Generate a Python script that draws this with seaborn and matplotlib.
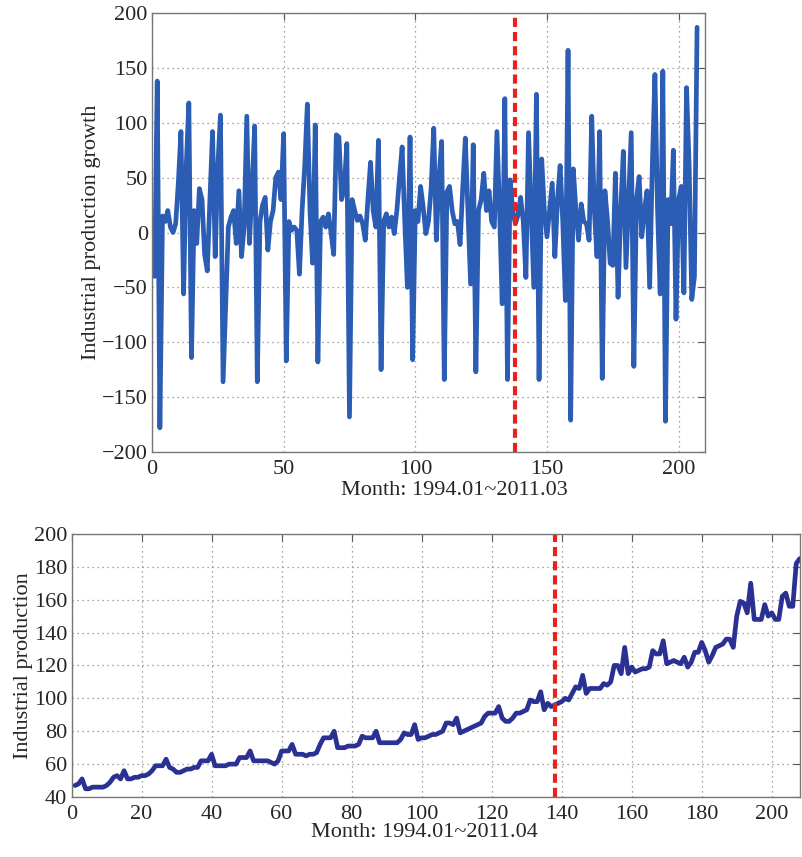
import numpy as np
import pandas as pd
import seaborn as sns
import matplotlib
matplotlib.use("Agg")
import matplotlib.pyplot as plt

# monthly growth of industrial production (x = 1..207)
growth = [
    -40, 138, -178, 15, 10, 20, 5, 0, 8, 45, 92, -56, 60, 118, -114,
    20, -10, 40, 30, -20, -35, 30, 92, -22, 60, 107, -136,
    -65, 5, 14, 20, -10, 38, -22, 5, 106, -10, 40, 97, -136,
    10, 25, 32, -16, 10, 20, 50, 55, 30, 90, -117,
    10, 2, 5, 2, -38, 20, 60, 117, 20, -28, 98, -118,
    10, 14, 5, 17, 0, -20, 89, 87, 30, 40, 81, -168,
    30, 20, 11, 15, 8, -7, 30, 64, 20, 5, 84, -125,
    10, 17, 5, 14, -1, 20, 50, 78, 10, -50, 87, -116,
    20, 10, 42, 23, -1, 10, 40, 95, -7, 50, 83, -134,
    37, 42, 20, 8, 10, -11, 40, 86, 20, -47, 80, -127,
    20, 30, 54, 20, 38, 10, 5, 92, 20, -65, 122, -134,
    48, 20, 8, 16, 32, 10, -41, 91, 20, -50, 126, -134,
    67, 20, -4, 20, 45, -22, 30, 61, 10, -62, 166, -171,
    58, 20, -7, 26, 10, 8, -7, 106, 20, -22, 92, -133,
    38, 11, -28, -30, 54, -59, 20, 74, -32, 30, 91, -122,
    30, 51, -4, 20, 38, -50, 60, 144, 20, -56, 147, -172,
    30, 8, 75, -79, 30, 42, -55, 132, 60, -61, -40, 187,
]

# industrial production level (lower panel, x = 1..208)
level = [
    47, 48, 51, 45, 45, 46, 46, 46, 46, 47, 49, 52, 53, 51, 56,
    51, 51, 52, 52, 53, 53, 54, 56, 59, 59, 59, 63,
    58, 57, 55, 55, 56, 57, 57, 58, 58, 62, 62, 62, 66,
    59, 59, 59, 59, 60, 60, 60, 64, 64, 64, 68,
    62, 62, 62, 62, 62, 61, 60, 62, 68, 68, 68, 72,
    66, 66, 66, 65, 66, 66, 67, 72, 76, 76, 76, 80,
    70, 70, 70, 71, 71, 71, 72, 77, 76, 76, 76, 80,
    73, 73, 73, 73, 73, 73, 75, 79, 78, 78, 84,
    75, 76, 76, 77, 78, 78, 79, 80, 85, 85, 84, 88,
    79, 80, 81, 82, 83, 84, 85, 89, 91, 91, 91, 95,
    88, 86, 86, 88, 91, 91, 92, 93, 99, 98, 98, 104,
    93, 97, 95, 96, 97, 98, 100, 99, 103, 107, 106, 114,
    103, 106, 106, 106, 106, 109, 108, 110, 120, 120, 115, 131,
    115, 119, 116, 117, 118, 118, 119, 129, 127, 127, 135,
    121, 122, 123, 122, 121, 125, 119, 122, 128, 128, 134,
    129, 122, 126, 131, 132, 133, 136, 136, 131, 150, 159, 158, 152, 170,
    148, 148, 148, 157, 150, 152, 148, 148, 162, 164, 156, 156, 182, 185,
]

split_month = 138

df_g = pd.DataFrame({"month": np.arange(1, len(growth) + 1), "value": growth})
df_l = pd.DataFrame({"month": np.arange(1, len(level) + 1), "value": level})

sns.set_style("white")
plt.rcParams["font.family"] = ["Liberation Serif", "DejaVu Serif"]
plt.rcParams["font.size"] = 16

fig = plt.figure(figsize=(8.02, 8.57), dpi=100)
ax1 = fig.add_axes([0.1895, 0.4726, 0.6895, 0.5122])
ax2 = fig.add_axes([0.0892, 0.0700, 0.9080, 0.3070])


def matlab_axes(ax):
    ax.grid(True, linestyle=(0, (1, 3)), color="#888888", linewidth=0.9)
    for s in ax.spines.values():
        s.set_color("#777777")
        s.set_linewidth(1.0)
    ax.tick_params(direction="in", top=True, right=True, length=5,
                   color="#555555", labelsize=16)
    ax.tick_params(axis="x", pad=6)
    ax.tick_params(axis="y", pad=3)


sns.lineplot(data=df_g, x="month", y="value", ax=ax1, color="#2c5db4",
             linewidth=3.4, estimator=None)
ax1.axvline(split_month, color="#e8231e", linestyle=(0, (2.2, 1.2)), linewidth=3)
ax1.set_xlim(0, 210)
ax1.set_ylim(-200, 200)
ax1.set_xticks(range(0, 201, 50))
ax1.set_yticks(range(-200, 201, 50))
ax1.set_xlabel("Month: 1994.01~2011.03", fontsize=16)
ax1.set_ylabel("Industrial production growth", fontsize=16, labelpad=1)
ax1.xaxis.set_label_coords(0.547, -0.065)
matlab_axes(ax1)

sns.lineplot(data=df_l, x="month", y="value", ax=ax2, color="#2a3192",
             linewidth=3.4, estimator=None)
ax2.axvline(split_month, color="#e8231e", linestyle=(0, (2.2, 1.2)), linewidth=3)
ax2.set_xlim(0, 208)
ax2.set_ylim(40, 200)
ax2.set_xticks(range(0, 201, 20))
ax2.set_yticks(range(40, 201, 20))
ax2.set_xlabel("Month: 1994.01~2011.04", fontsize=16)
ax2.set_ylabel("Industrial production", fontsize=16, labelpad=1)
ax2.xaxis.set_label_coords(0.484, -0.10)
matlab_axes(ax2)

fig.savefig("out.png", dpi=100)
